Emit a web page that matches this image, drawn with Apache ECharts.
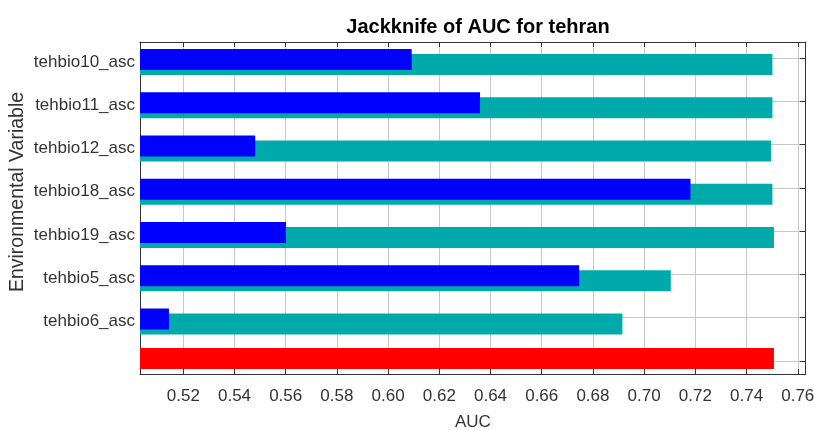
<!DOCTYPE html>
<html>
<head>
<meta charset="utf-8">
<script src="https://cdn.jsdelivr.net/npm/echarts@6/dist/echarts.min.js"></script>
<style>html,body{margin:0;padding:0;background:#fff;}#c{width:814px;height:430px;}</style>
</head>
<body>
<div id="c"></div>
<script>
// ---- data ----
const categories = ['tehbio10_asc','tehbio11_asc','tehbio12_asc','tehbio18_asc','tehbio19_asc','tehbio5_asc','tehbio6_asc',''];
const withoutVariable = [0.7501,0.7501,0.7496,0.7501,0.7507,0.7104,0.6915,'-'];
const withOnlyVariable = [0.6092,0.6359,0.5481,0.7181,0.5601,0.6746,0.5144,'-'];
const withAllVariables = ['-','-','-','-','-','-','-',0.7507];
const xMin = 0.50309, xMax = 0.7631;
const titleText = 'Jackknife of AUC for tehran';
const xName = 'AUC';
const yName = 'Environmental Variable';

const FONT = 'Liberation Sans, Arial, sans-serif';
const chart = echarts.init(document.getElementById('c'), null, {renderer:'canvas'});
const L = 140, R = 8.3;
const frameTop = 42, frameBottom = 56;
const band = 43.25;
const dataTop = 40.375;
const gridLineMin = -(58 - frameTop) / band;
const gridLineMax = (430 - frameBottom - 58) / band;
const FRAME = '#333';

const hiddenX = (g) => ({gridIndex:g, type:'value', min:xMin, max:xMax, show:false});
const hiddenYCat = (g) => ({gridIndex:g, type:'category', data:categories, inverse:true, show:false});

chart.setOption({
  animation:false,
  backgroundColor:'#fff',
  title:{text:titleText, left:473, top:12, textAlign:'center',
    textStyle:{fontSize:20, fontWeight:'bold', color:'#000', fontFamily:FONT}},
  grid:[
    {left:L, right:R, top:dataTop, height:band*8, containLabel:false, outerBoundsMode:'none'},
    {left:L, right:R, top:frameTop, bottom:frameBottom, containLabel:false, outerBoundsMode:'none'},
    {left:L, right:R, top:dataTop-6.25, height:band*8, containLabel:false, outerBoundsMode:'none'}
  ],
  xAxis:[
    hiddenX(0),
    {gridIndex:1, type:'value', min:xMin, max:xMax, splitNumber:13, position:'bottom',
      axisLine:{show:true, onZero:false, lineStyle:{color:FRAME, width:1}},
      axisTick:{show:true, inside:true, length:5, lineStyle:{color:FRAME}},
      axisLabel:{fontSize:17, color:'#333', margin:14, fontFamily:FONT, showMinLabel:false, showMaxLabel:false,
        formatter:(v)=>v.toFixed(2)},
      splitLine:{show:true, lineStyle:{color:'#c8c8c8', width:1}},
      name:xName, nameLocation:'middle', nameGap:40,
      nameTextStyle:{fontSize:17, color:'#333', fontFamily:FONT}},
    {gridIndex:1, type:'value', min:xMin, max:xMax, splitNumber:13, position:'top',
      axisLine:{show:true, onZero:false, lineStyle:{color:FRAME, width:1}},
      axisTick:{show:true, inside:true, length:5, lineStyle:{color:FRAME}},
      axisLabel:{show:false}, splitLine:{show:false}},
    hiddenX(2)
  ],
  yAxis:[
    {gridIndex:0, type:'category', data:categories, inverse:true,
      axisLine:{show:false}, axisTick:{show:false}, splitLine:{show:false},
      axisLabel:{fontSize:17, color:'#333', margin:5, fontFamily:FONT}},
    {gridIndex:1, type:'value', inverse:true, min:gridLineMin, max:gridLineMax, splitNumber:8, position:'left',
      axisLine:{show:true, onZero:false, lineStyle:{color:FRAME, width:1}},
      axisTick:{show:false}, axisLabel:{show:false},
      splitLine:{show:true, lineStyle:{color:'#c8c8c8', width:1}}},
    {gridIndex:1, type:'value', inverse:true, min:gridLineMin, max:gridLineMax, splitNumber:8, position:'right',
      axisLine:{show:true, onZero:false, lineStyle:{color:FRAME, width:1}},
      axisTick:{show:true, inside:true, length:6, lineStyle:{color:FRAME}},
      axisLabel:{show:false}, splitLine:{show:false}},
    hiddenYCat(2)
  ],
  graphic:[
    {type:'text', x:18, y:192, rotation:Math.PI/2,
      style:{text:yName, fontSize:19.5, fill:'#333', fontFamily:FONT, textAlign:'center', textVerticalAlign:'middle'}}
  ],
  series:[
    {name:'With only variable', type:'bar', xAxisIndex:0, yAxisIndex:0, data:withOnlyVariable,
      barWidth:21, barGap:'-76.19%', z:3, itemStyle:{color:'#0000ff'}},
    {name:'Without variable', type:'bar', xAxisIndex:0, yAxisIndex:0, data:withoutVariable,
      barWidth:21, barGap:'-76.19%', z:2, itemStyle:{color:'#00aaaa'}},
    {name:'With all variables', type:'bar', xAxisIndex:3, yAxisIndex:3, data:withAllVariables,
      barWidth:21, z:2, itemStyle:{color:'#ff0000'}}
  ]
});
</script>
</body>
</html>
